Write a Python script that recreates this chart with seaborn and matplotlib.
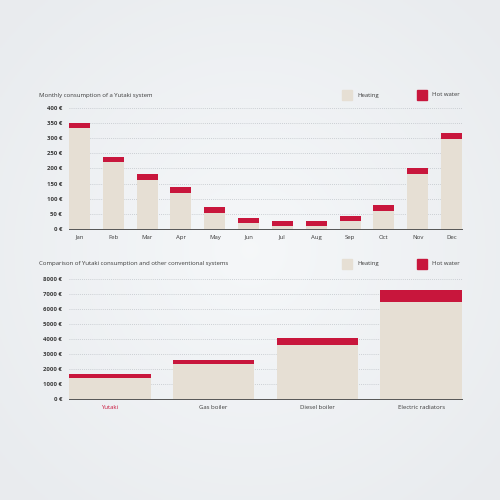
import numpy as np
import matplotlib
matplotlib.use("Agg")
import matplotlib.pyplot as plt
import matplotlib.patches as mpatches
from matplotlib.ticker import FuncFormatter
import pandas as pd
import seaborn as sns

# data
months = ["Jan", "Feb", "Mar", "Apr", "May", "Jun", "Jul", "Aug", "Sep", "Oct", "Nov", "Dec"]
month_heating = [332, 220, 163, 119, 54, 21, 11, 9, 25, 61, 181, 298]
month_hot_water = [18, 18, 19, 18, 19, 15, 14, 16, 17, 17, 19, 19]

systems = ["Yutaki", "Gas boiler", "Diesel boiler", "Electric radiators"]
system_heating = [1390, 2340, 3600, 6470]
system_hot_water = [310, 290, 440, 800]

HEAT = "#e6dfd4"
HOT = "#c8163c"
GRID = "#bfc4c9"
TXT = "#3a3a3a"

sns.set_style("white")
plt.rcParams["font.family"] = ["Open Sans", "DejaVu Sans"]

fig = plt.figure(figsize=(5, 5), dpi=100)
fig.patch.set_facecolor("#eaedf0")

# soft radial backdrop
bg = fig.add_axes([0, 0, 1, 1], zorder=-10)
yy, xx = np.mgrid[-1:1:300j, -1:1:300j]
r = np.sqrt(xx ** 2 + yy ** 2)
shade = np.clip(1 - r / 1.3, 0, 1)
c0 = np.array([0.914, 0.925, 0.937])
c1 = np.array([0.962, 0.970, 0.977])
img = c0[None, None, :] + (c1 - c0)[None, None, :] * shade[:, :, None]
bg.imshow(img, extent=[0, 1, 0, 1], aspect="auto")
bg.axis("off")


def stacked(ax, cats, heat, hot, width, ymax, step, fmt):
    df = pd.DataFrame({"cat": cats, "heat": heat,
                       "total": np.array(heat) + np.array(hot)})
    sns.barplot(data=df, x="cat", y="total", order=cats, color=HOT,
                width=width, saturation=1, errorbar=None, ax=ax,
                linewidth=0, edgecolor="none", zorder=2)
    sns.barplot(data=df, x="cat", y="heat", order=cats, color=HEAT,
                width=width, saturation=1, errorbar=None, ax=ax,
                linewidth=0, edgecolor="none", zorder=3)
    ax.set_facecolor("none")
    ax.set_xlim(-width / 2, len(cats) - 1 + width / 2)
    ax.set_ylim(0, ymax)
    ax.set_yticks(np.arange(0, ymax + 1, step))
    ax.yaxis.set_major_formatter(FuncFormatter(fmt))
    ax.set_xlabel("")
    ax.set_ylabel("")
    ax.grid(axis="y", color=GRID, linestyle=(0, (1, 1.5)), linewidth=0.6, zorder=0)
    ax.set_axisbelow(True)
    for s in ["top", "right", "left"]:
        ax.spines[s].set_visible(False)
    ax.spines["bottom"].set_color("#555555")
    ax.spines["bottom"].set_linewidth(0.7)
    ax.tick_params(axis="y", length=0, pad=5, labelsize=4.3, labelcolor=TXT)
    ax.tick_params(axis="x", length=0, pad=4, labelsize=4.3, labelcolor=TXT)
    for lab in ax.get_yticklabels():
        lab.set_fontweight("bold")


def legend(ytop):
    # squares and labels in figure coordinates
    for x0, col, lab in [(342, HEAT, "Heating"), (417, HOT, "Hot water")]:
        fig.add_artist(mpatches.Rectangle((x0 / 500, 1 - (ytop + 10) / 500), 10 / 500, 10 / 500,
                                          transform=fig.transFigure, color=col))
        fig.text((x0 + 15) / 500, 1 - (ytop + 5) / 500, lab, fontsize=4.3,
                 color=TXT, va="center", ha="left")


ax1 = fig.add_axes([69 / 500, 1 - 229 / 500, (462 - 69) / 500, (229 - 107.7) / 500])
stacked(ax1, months, month_heating, month_hot_water, 0.62, 400, 50,
        lambda v, p: f"{int(v)} €")
fig.text(39 / 500, 1 - 95 / 500, "Monthly consumption of a Yutaki system",
         fontsize=4.3, color=TXT, va="center", ha="left")
legend(90)

ax2 = fig.add_axes([69 / 500, 1 - 399.3 / 500, (462 - 69) / 500, (399.3 - 278.7) / 500])
stacked(ax2, systems, system_heating, system_hot_water, 0.787, 8000, 1000,
        lambda v, p: f"{int(v)} €")
ax2.get_xticklabels()[0].set_color(HOT)
fig.text(39 / 500, 1 - 264 / 500, "Comparison of Yutaki consumption and other conventional systems",
         fontsize=4.3, color=TXT, va="center", ha="left")
legend(258.5)

fig.savefig("out.png", dpi=100, facecolor=fig.get_facecolor())
